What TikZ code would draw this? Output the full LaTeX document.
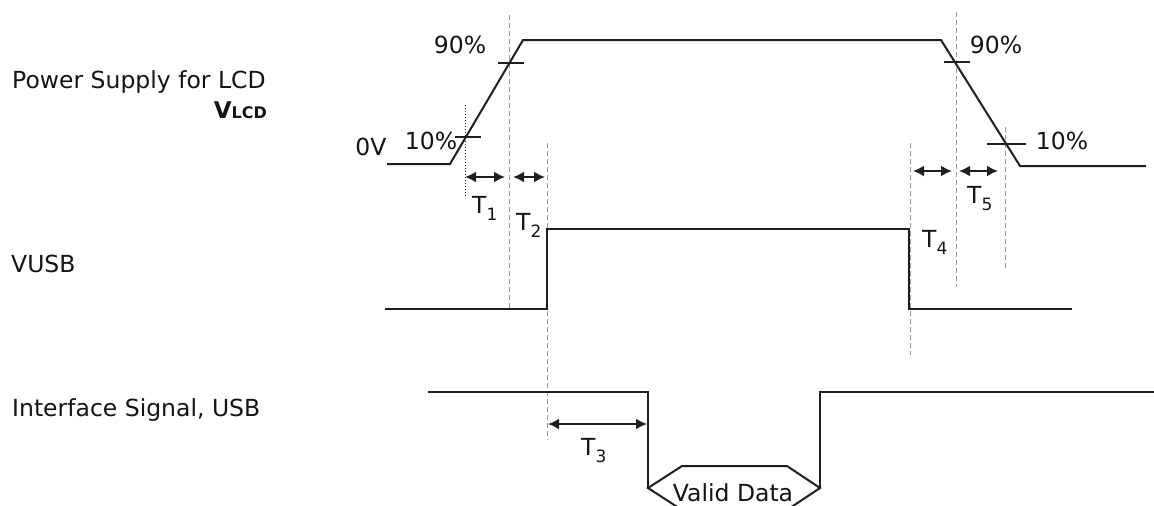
\documentclass[tikz,border=0pt]{standalone}
\usepackage{fontspec}
\setmainfont{DejaVu Sans}
\usetikzlibrary{arrows.meta}
\newcommand\Tlab[1]{T\raisebox{-7pt}{\fontsize{17}{20}\selectfont #1}}
\begin{document}
\begin{tikzpicture}[x=1pt,y=-1pt,
  sig/.style={line width=2pt, line join=miter, draw=black!88},
  guide/.style={draw=black!40, line width=1pt, dash pattern=on 5pt off 3pt},
  tickmark/.style={line width=1.5pt, draw=black!88},
  span/.style={line width=2pt, draw=black!88, {Latex[length=11pt,width=11pt]}-{Latex[length=11pt,width=11pt]}},
  lbl/.style={inner sep=0pt, font=\fontsize{23.5}{28}\selectfont, text=black!92}]
\useasboundingbox (0,0) rectangle (1154,506);
\begin{scope}
\clip (0,0) rectangle (1154,506);
% guides
\draw[guide] (509,15) coordinate (g1a) -- (509,310) coordinate (g1b);
\draw[guide] (547,143) coordinate (g2a) -- (547,440) coordinate (g2b);
\draw[guide] (910,143) coordinate (g3a) -- (910,355) coordinate (g3b);
\draw[guide] (956,12) coordinate (g4a) -- (956,287) coordinate (g4b);
\draw[guide] (1005,127) coordinate (g5a) -- (1005,270) coordinate (g5b);
\draw[black!85, line width=1pt, dotted] (465,105) coordinate (d1a) -- (465,198) coordinate (d1b);
% VLCD
\coordinate (a0) at (387,164);
\coordinate (a1) at (450,164);
\coordinate (a2) at (523,40);
\coordinate (a3) at (941,40);
\coordinate (a4) at (1020,166);
\coordinate (a5) at (1146,166);
\draw[sig] (a0)--(a1)--(a2)--(a3)--(a4)--(a5);
% VUSB
\coordinate (b0) at (385,309);
\coordinate (b1) at (547,309);
\coordinate (b2) at (547,229);
\coordinate (b3) at (909,229);
\coordinate (b4) at (909,309);
\coordinate (b5) at (1072,309);
\draw[sig] (b0)--(b1)--(b2)--(b3)--(b4)--(b5);
% Interface
\coordinate (c0) at (428,392);
\coordinate (c1) at (648,392);
\coordinate (c2) at (648,488);
\coordinate (h1) at (682,466);
\coordinate (h2) at (787,466);
\coordinate (c3) at (820,488);
\coordinate (h3) at (787,510);
\coordinate (h4) at (682,510);
\coordinate (c4) at (820,392);
\coordinate (c5) at (1154,392);
\draw[sig] (c0)--(c1)--(c2);
\draw[sig] (c2)--(h1)--(h2)--(c3)--(h3)--(h4)--cycle;
\draw[sig] (c3)--(c4)--(c5);
\end{scope}
% ticks
\draw[tickmark] (498,63) -- (524,63);
\draw[tickmark] (455,137) -- (481,137);
\draw[tickmark] (944,62) -- (970,62);
\draw[tickmark] (987,144) -- (1026,144);
% span arrows
\coordinate (t1a) at (465,177); \coordinate (t1b) at (505,177);
\coordinate (t2a) at (513,177); \coordinate (t2b) at (545,177);
\coordinate (t4a) at (913,171); \coordinate (t4b) at (952,171);
\coordinate (t5a) at (959,171); \coordinate (t5b) at (998,171);
\coordinate (t3a) at (548,424); \coordinate (t3b) at (647,424);
\draw[span] (t1a) -- (t1b);
\draw[span] (t2a) -- (t2b);
\draw[span] (t4a) -- (t4b);
\draw[span] (t5a) -- (t5b);
\draw[span] (t3a) -- (t3b);
% labels
\node[lbl, anchor=base west] (lPS) at (12,88) {Power Supply for LCD};
\node[lbl, anchor=base east] (lVL) at (267,118) {\bfseries\fontsize{23}{26}\selectfont V\fontsize{16}{18}\selectfont LCD};
\node[lbl, anchor=base west] (lVU) at (11,272) {VUSB};
\node[lbl, anchor=base west] (lIF) at (12,416) {Interface Signal, USB};
\node[lbl, anchor=base] (l0V) at (371,155) {0V};
\node[lbl, anchor=base] (l10a) at (431,149) {10\%};
\node[lbl, anchor=base] (l90a) at (460,53) {90\%};
\node[lbl, anchor=base] (l90b) at (996,53) {90\%};
\node[lbl, anchor=base] (l10b) at (1062,149) {10\%};
\node[lbl, anchor=base west] (lT1) at (472,213) {\Tlab{1}};
\node[lbl, anchor=base west] (lT2) at (516,230) {\Tlab{2}};
\node[lbl, anchor=base west] (lT4) at (922,247) {\Tlab{4}};
\node[lbl, anchor=base west] (lT5) at (967,203) {\Tlab{5}};
\node[lbl, anchor=base west] (lT3) at (581,455) {\Tlab{3}};
\node[lbl, anchor=base] (lVD) at (733,501) {Valid Data};
\end{tikzpicture}
\end{document}
